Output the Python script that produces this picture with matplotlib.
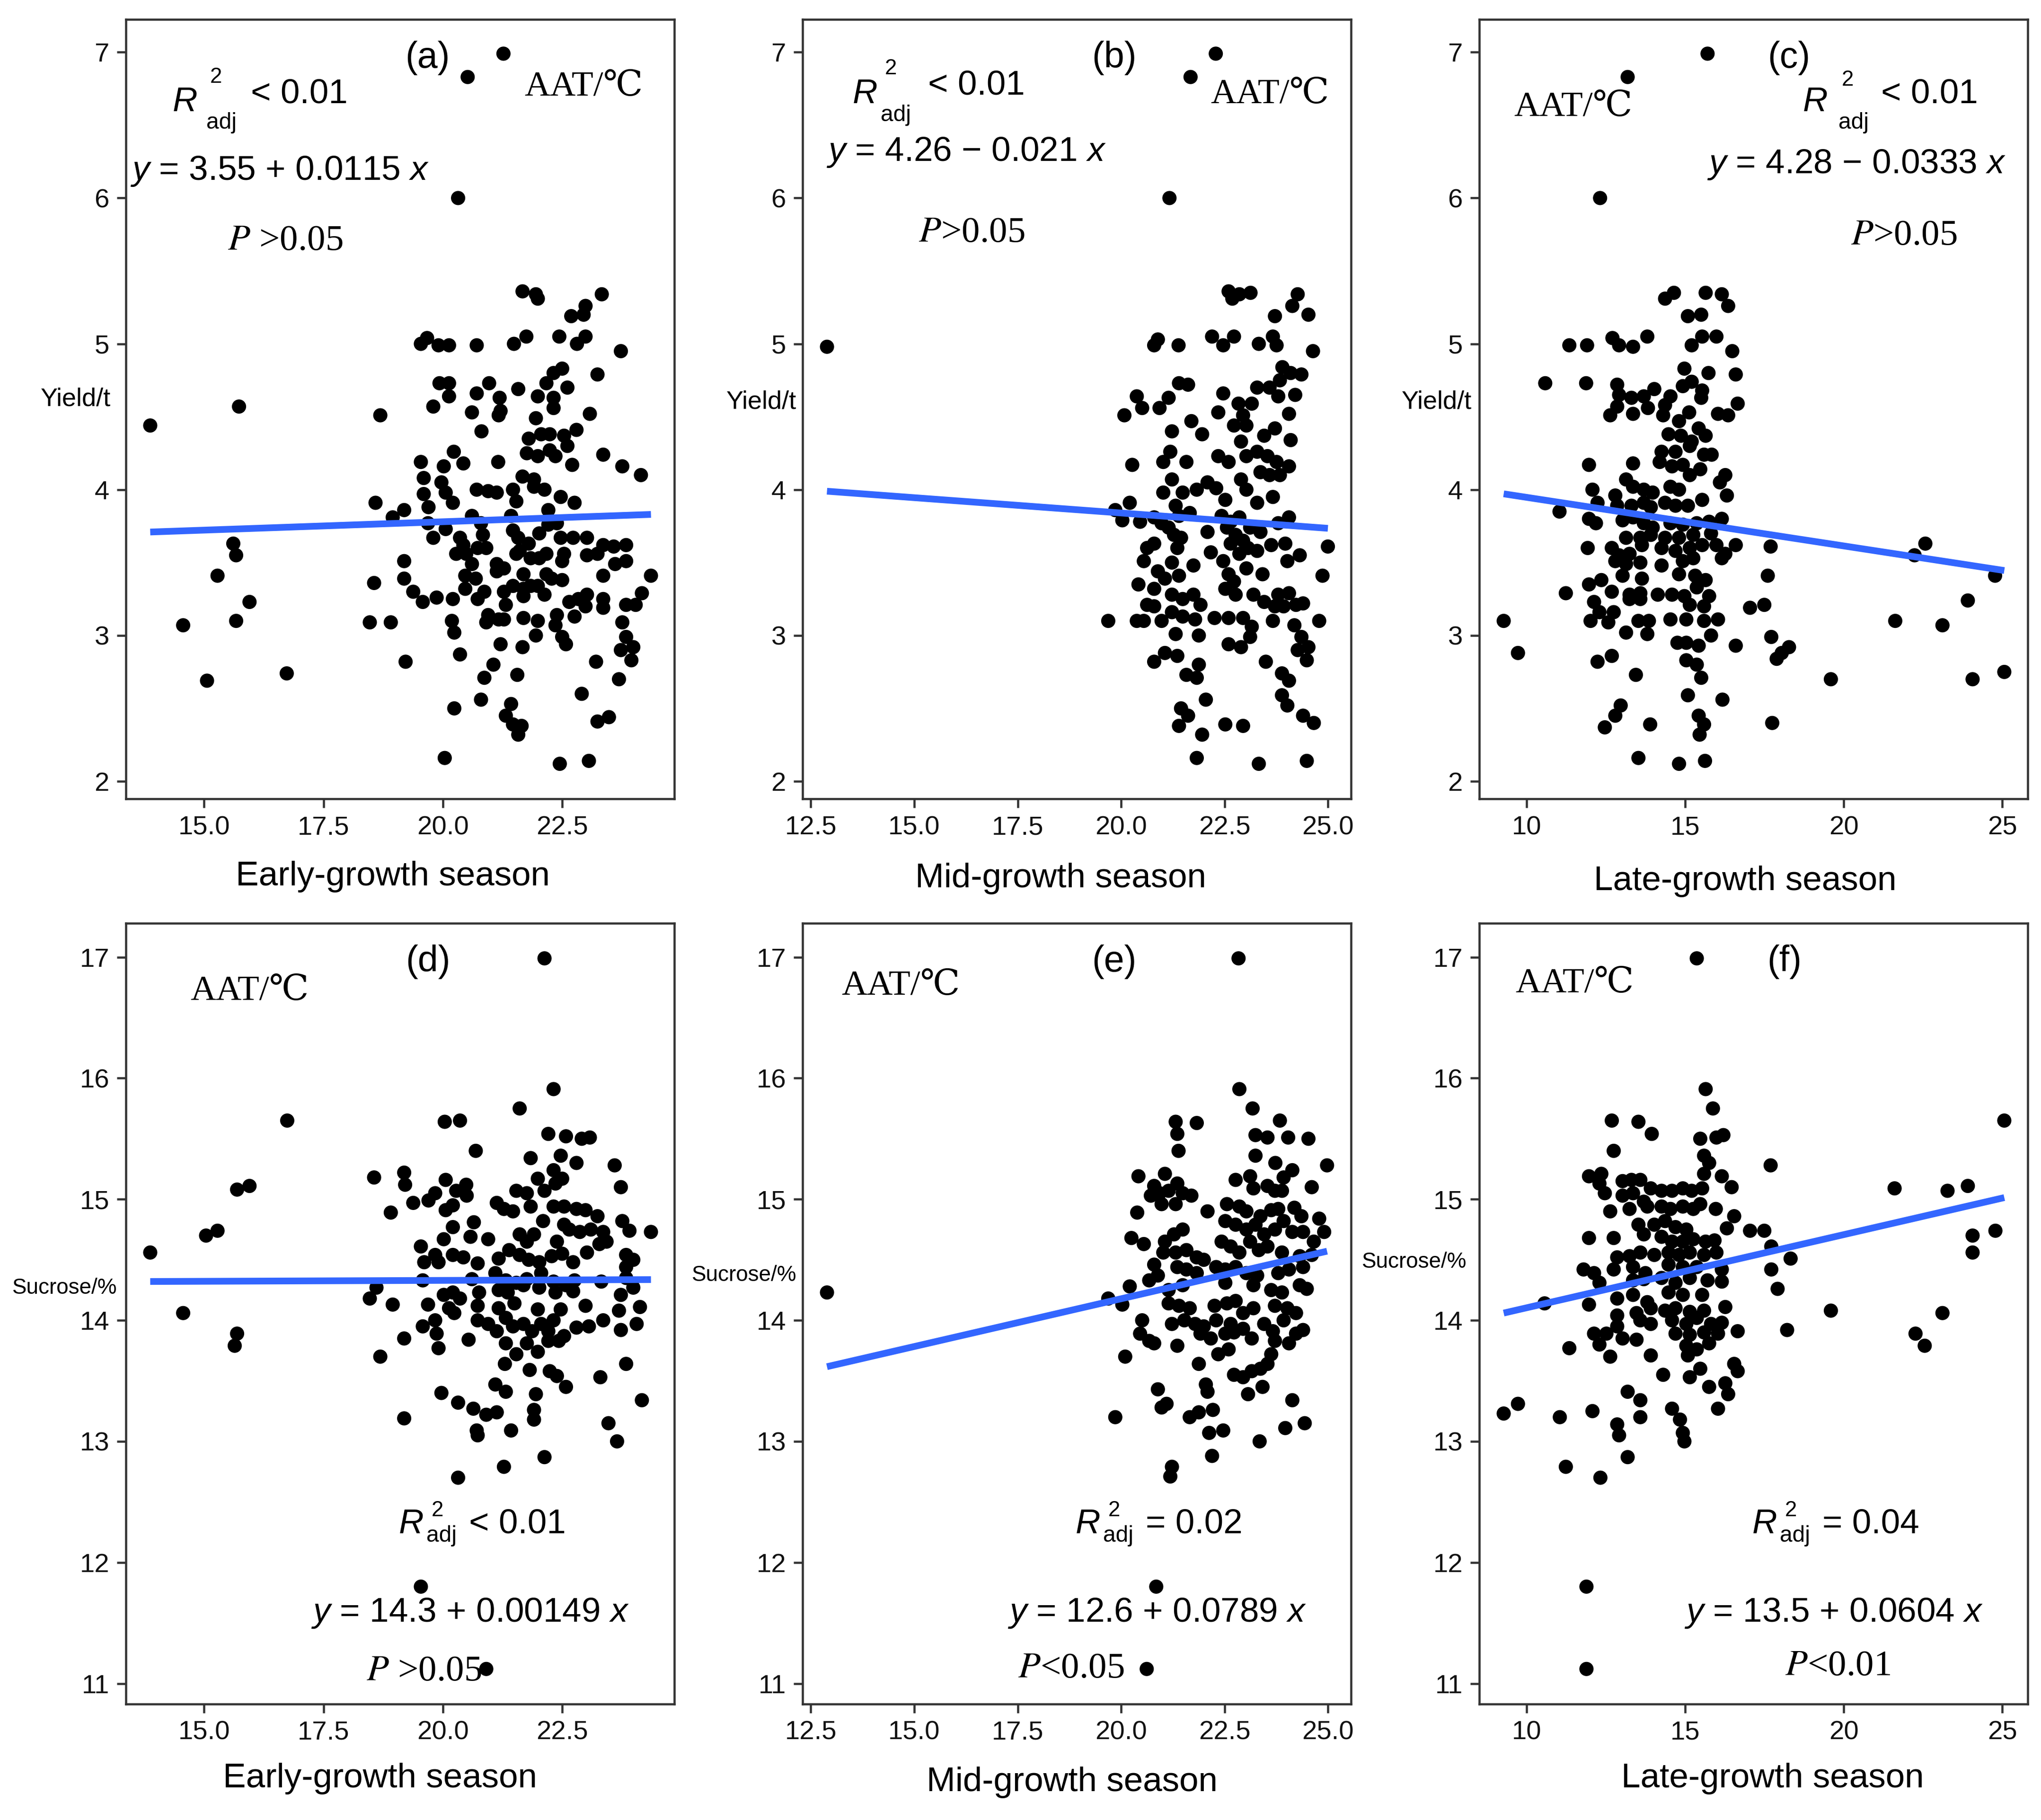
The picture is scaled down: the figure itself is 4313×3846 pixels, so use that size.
import numpy as np
import matplotlib
matplotlib.use("Agg")
import matplotlib.pyplot as plt

W, H, DPI = 4313, 3846, 300
plt.rcParams['font.family'] = ['Liberation Sans', 'DejaVu Sans']
plt.rcParams['mathtext.fontset'] = 'custom'
plt.rcParams['mathtext.rm'] = 'Liberation Sans'
plt.rcParams['mathtext.it'] = 'Liberation Sans:italic'

# ---------------- data (x = AAT in season, y = yield or sucrose) ----------------
pts_a = [(13.87,4.44),(15.73,4.57),(21.27,6.99),(20.52,6.83),(20.32,6.00),(18.69,4.51),(18.59,3.91),(15.61,3.63),
(15.67,3.55),(15.28,3.41),(15.95,3.23),(15.67,3.10),(14.56,3.07),(15.06,2.69),(16.73,2.74),(18.56,3.36),(18.47,3.09),
(18.91,3.09),(19.22,2.82),(19.19,3.51),(19.19,3.39),(19.19,3.86),(18.95,3.81),(19.38,3.30),(19.58,3.23),(19.87,3.26),
(20.21,3.25),(20.19,3.10),(20.24,3.02),(20.36,2.87),(20.24,2.50),(20.04,2.16),(19.54,5.00),(19.67,5.04),(19.91,4.99),
(20.13,4.99),(20.71,4.99),(21.49,5.00),(21.75,5.05),(21.67,5.36),(21.95,5.34),(21.99,5.31),(22.44,5.05),(22.69,5.19),
(22.99,5.26),(22.95,5.20),(23.33,5.34),(22.81,5.00),(22.99,5.05),(23.73,4.95),(23.24,4.79),(22.50,4.83),(22.32,4.80),
(22.17,4.73),(22.61,4.70),(21.99,4.64),(22.32,4.63),(22.32,4.56),(21.58,4.69),(20.97,4.73),(20.71,4.66),(21.19,4.63),
(21.21,4.54),(21.17,4.51),(20.61,4.53),(19.93,4.73),(20.13,4.73),(20.13,4.64),(19.80,4.57),(20.81,4.40),(21.95,4.49),
(22.06,4.38),(21.80,4.35),(22.24,4.38),(22.54,4.37),(22.80,4.41),(23.08,4.52),(21.76,4.25),(21.99,4.23),(22.24,4.27),
(22.36,4.23),(22.61,4.30),(22.71,4.17),(23.36,4.24),(23.76,4.16),(24.15,4.10),(20.23,4.26),(20.43,4.18),(19.54,4.19),
(20.02,4.16),(21.16,4.19),(19.60,4.08),(19.97,4.05),(20.06,3.98),(20.21,3.91),(19.60,3.97),(19.70,3.88),(20.71,4.00),
(20.95,3.99),(21.13,3.98),(21.47,4.00),(21.54,3.92),(21.67,4.09),(21.91,4.07),(21.91,4.02),(22.13,4.00),(22.47,3.95),
(22.76,3.91),(22.21,3.86),(21.43,3.82),(20.61,3.82),(19.69,3.77),(19.80,3.67),(20.06,3.73),(20.80,3.77),(20.84,3.69),
(20.36,3.67),(20.43,3.62),(20.49,3.56),(20.28,3.56),(20.61,3.49),(20.73,3.60),(20.91,3.60),(21.13,3.49),(21.28,3.46),
(21.47,3.72),(21.58,3.67),(21.61,3.58),(21.54,3.56),(21.80,3.63),(21.84,3.53),(22.02,3.53),(22.17,3.56),(22.02,3.70),
(22.21,3.76),(22.39,3.77),(22.47,3.67),(22.73,3.67),(22.54,3.56),(22.50,3.51),(23.02,3.67),(23.02,3.55),(23.24,3.56),
(23.36,3.62),(23.58,3.61),(23.84,3.62),(23.61,3.49),(23.84,3.51),(24.36,3.41),(23.36,3.41),(21.69,3.42),(21.84,3.34),
(21.69,3.32),(21.99,3.34),(22.13,3.28),(22.28,3.39),(22.50,3.38),(21.69,3.27),(20.47,3.41),(20.69,3.39),(20.87,3.30),
(20.73,3.25),(21.28,3.30),(21.32,3.21),(21.17,3.11),(20.95,3.14),(20.91,3.09),(21.28,3.11),(21.69,3.12),(21.99,3.10),
(21.95,3.00),(22.39,3.14),(22.36,3.07),(22.50,2.99),(22.58,2.94),(22.65,3.23),(22.84,3.25),(22.99,3.20),(22.76,3.13),
(23.02,3.28),(23.36,3.25),(23.36,3.19),(23.84,3.21),(24.04,3.21),(24.17,3.29),(23.76,3.09),(23.84,2.99),(23.99,2.92),
(23.73,2.90),(23.95,2.83),(23.21,2.82),(23.69,2.70),(22.91,2.60),(23.24,2.41),(23.48,2.44),(23.06,2.14),(22.45,2.12),
(21.21,2.94),(21.06,2.80),(20.87,2.71),(20.80,2.56),(21.56,2.73),(21.67,2.92),(21.43,2.53),(21.32,2.45),(21.47,2.39),
(21.65,2.38),(21.58,2.32),(21.13,3.44),(20.47,3.32),(21.47,3.34),(22.17,3.42)]

pts_b = [(12.89,4.98),(22.29,6.99),(21.68,6.83),(21.17,6.00),(22.60,5.36),(22.69,5.31),(22.86,5.34),(23.13,5.35),
(24.27,5.34),(24.14,5.26),(24.53,5.20),(23.72,5.19),(20.89,5.03),(20.80,4.99),(21.39,4.99),(22.20,5.05),(22.47,4.99),
(22.73,5.05),(23.33,5.00),(23.67,5.05),(23.76,4.99),(24.64,4.95),(23.90,4.84),(24.10,4.80),(24.36,4.79),(23.84,4.75),
(21.40,4.73),(21.62,4.72),(20.38,4.64),(20.51,4.56),(20.08,4.51),(20.93,4.56),(21.15,4.63),(22.47,4.66),(22.35,4.53),
(22.84,4.59),(23.16,4.59),(23.29,4.70),(23.59,4.70),(23.80,4.64),(24.21,4.65),(24.06,4.52),(21.70,4.47),(21.96,4.38),
(21.23,4.40),(22.95,4.51),(22.73,4.44),(23.03,4.44),(23.72,4.42),(23.46,4.37),(24.10,4.34),(21.19,4.26),(21.02,4.19),
(21.58,4.19),(20.27,4.17),(22.35,4.23),(22.60,4.19),(22.90,4.33),(23.03,4.23),(23.29,4.26),(23.54,4.23),(23.76,4.19),
(24.06,4.16),(21.23,4.07),(21.02,3.98),(21.49,3.98),(21.83,4.00),(22.09,4.05),(22.30,4.01),(22.52,3.93),(22.90,4.07),
(23.03,4.00),(23.37,4.12),(23.59,4.10),(23.84,4.10),(23.67,3.95),(23.29,3.91),(20.21,3.91),(19.86,3.86),(20.03,3.79),
(20.46,3.78),(20.80,3.81),(20.98,3.77),(21.32,3.89),(21.40,3.82),(21.66,3.84),(21.15,3.74),(21.28,3.69),(21.45,3.67),
(22.09,3.71),(22.43,3.82),(22.65,3.78),(22.86,3.81),(22.56,3.74),(22.77,3.69),(23.12,3.74),(23.37,3.71),(23.80,3.77),
(24.06,3.81),(20.63,3.60),(20.80,3.63),(21.36,3.60),(20.55,3.51),(21.23,3.50),(21.75,3.48),(22.17,3.57),(22.47,3.51),
(22.65,3.63),(22.95,3.65),(22.86,3.56),(23.07,3.60),(23.29,3.58),(23.63,3.62),(23.97,3.63),(24.32,3.55),(25.00,3.61),
(24.02,3.51),(20.42,3.35),(20.89,3.44),(21.06,3.39),(21.40,3.41),(22.60,3.42),(22.73,3.37),(23.03,3.46),(23.42,3.42),
(24.87,3.41),(20.80,3.32),(21.23,3.28),(21.49,3.25),(21.75,3.28),(21.92,3.21),(22.52,3.32),(22.77,3.28),(23.20,3.28),
(23.46,3.23),(23.80,3.28),(24.06,3.29),(24.23,3.21),(24.40,3.22),(23.72,3.20),(23.93,3.20),(19.69,3.10),(20.38,3.10),
(20.55,3.10),(20.63,3.21),(20.80,3.20),(20.98,3.10),(21.23,3.16),(21.49,3.13),(21.79,3.11),(22.26,3.12),(22.60,3.12),
(22.95,3.12),(23.16,3.06),(23.67,3.10),(24.19,3.07),(24.79,3.10),(21.32,3.01),(21.88,3.00),(22.60,2.94),(22.90,2.92),
(23.12,2.99),(24.36,2.99),(24.27,2.90),(24.53,2.92),(24.49,2.83),(21.06,2.88),(21.36,2.86),(20.80,2.82),(21.88,2.80),
(21.58,2.73),(21.83,2.71),(23.50,2.82),(23.89,2.74),(24.06,2.69),(22.05,2.56),(23.89,2.59),(24.02,2.52),(21.45,2.50),
(21.62,2.45),(21.40,2.38),(21.96,2.32),(22.52,2.39),(22.95,2.38),(24.40,2.45),(24.66,2.40),(21.83,2.16),(23.33,2.12),
(24.49,2.14)]

pts_c = [(15.70,6.99),(13.18,6.83),(12.31,6.00),(14.36,5.31),(14.64,5.35),(15.64,5.35),(16.15,5.34),(16.35,5.26),
(15.08,5.19),(15.50,5.20),(11.34,4.99),(11.90,4.99),(12.70,5.04),(12.91,4.99),(13.35,4.98),(13.80,5.05),(15.20,4.99),
(15.53,5.05),(15.98,5.05),(16.48,4.95),(10.58,4.73),(11.87,4.73),(14.97,4.83),(15.73,4.80),(16.59,4.79),(12.85,4.72),
(12.91,4.65),(13.30,4.63),(13.69,4.64),(14.02,4.69),(14.53,4.64),(14.92,4.71),(15.20,4.74),(15.53,4.68),(15.50,4.63),
(12.63,4.51),(12.85,4.57),(13.35,4.52),(13.82,4.56),(14.30,4.51),(14.36,4.58),(14.80,4.47),(15.12,4.53),(16.03,4.52),
(16.35,4.51),(16.65,4.59),(14.47,4.38),(14.86,4.37),(15.20,4.33),(15.42,4.42),(15.64,4.37),(14.25,4.26),(14.69,4.26),
(15.14,4.30),(15.59,4.24),(15.83,4.24),(11.96,4.17),(13.35,4.18),(14.19,4.19),(14.58,4.16),(14.92,4.17),(15.14,4.10),
(15.47,4.14),(16.26,4.10),(16.09,4.05),(16.31,3.96),(13.13,4.07),(13.35,4.02),(13.69,4.00),(13.97,3.98),(14.53,4.02),
(14.80,4.00),(15.53,3.93),(12.07,4.00),(12.23,3.91),(12.79,3.96),(12.85,3.89),(13.30,3.89),(13.69,3.91),(13.91,3.88),
(14.36,3.91),(14.69,3.89),(15.08,3.89),(11.03,3.85),(11.96,3.80),(12.18,3.77),(13.02,3.79),(13.35,3.81),(13.69,3.77),
(13.97,3.74),(14.53,3.77),(14.92,3.76),(15.36,3.77),(15.75,3.78),(16.15,3.80),(13.13,3.67),(13.58,3.67),(13.91,3.69),
(14.36,3.67),(14.80,3.67),(15.25,3.69),(15.81,3.70),(11.92,3.60),(12.68,3.60),(12.91,3.55),(13.24,3.56),(13.63,3.62),
(14.25,3.60),(14.69,3.58),(15.14,3.60),(15.53,3.62),(15.98,3.62),(16.59,3.62),(17.69,3.61),(12.79,3.51),(13.13,3.49),
(13.58,3.50),(14.25,3.48),(14.92,3.51),(15.25,3.53),(16.15,3.53),(16.26,3.56),(22.23,3.55),(22.57,3.63),(13.02,3.41),
(13.63,3.39),(14.80,3.42),(15.31,3.41),(15.64,3.38),(17.60,3.41),(24.77,3.41),(11.23,3.29),(11.96,3.35),(12.35,3.38),
(12.68,3.30),(13.24,3.28),(13.58,3.29),(14.13,3.28),(14.58,3.28),(14.97,3.27),(15.36,3.33),(15.75,3.27),(12.12,3.23),
(12.29,3.16),(12.74,3.16),(13.24,3.25),(13.58,3.25),(15.14,3.21),(15.59,3.20),(17.04,3.19),(17.49,3.21),(23.91,3.24),
(9.27,3.10),(12.01,3.10),(12.57,3.09),(13.52,3.10),(13.85,3.10),(14.53,3.11),(15.03,3.11),(15.59,3.10),(16.03,3.11),
(21.62,3.10),(23.11,3.07),(13.13,3.02),(13.80,3.01),(14.75,2.95),(15.03,2.95),(15.81,3.00),(17.71,2.99),(15.42,2.93),
(16.59,2.93),(18.27,2.92),(18.04,2.88),(17.88,2.84),(9.72,2.88),(12.23,2.82),(12.68,2.86),(15.03,2.83),(15.36,2.80),
(13.44,2.73),(15.50,2.71),(19.59,2.70),(24.06,2.70),(25.06,2.75),(15.08,2.59),(16.17,2.56),(12.96,2.52),(12.79,2.45),
(12.46,2.37),(13.89,2.39),(15.42,2.45),(15.59,2.39),(15.45,2.32),(17.74,2.40),(13.52,2.16),(14.80,2.12),(15.62,2.14)]

pts_d = [(22.13,16.99),(22.32,15.91),(21.61,15.75),(20.04,15.64),(20.36,15.65),(16.74,15.65),(20.69,15.40),(22.21,15.54),
(22.58,15.52),(22.91,15.50),(23.08,15.51),(21.84,15.34),(22.47,15.36),(22.80,15.30),(23.60,15.28),(23.73,15.10),
(18.56,15.18),(19.19,15.22),(19.21,15.12),(19.38,14.97),(19.70,14.99),(19.84,15.05),(20.06,15.16),(20.28,15.07),
(20.49,15.12),(20.50,15.03),(20.06,14.91),(20.21,14.95),(18.91,14.89),(15.69,15.08),(15.95,15.11),(15.04,14.70),
(15.28,14.74),(13.87,14.56),(21.13,14.97),(21.28,14.92),(21.47,14.90),(21.54,15.07),(21.76,15.05),(21.84,14.94),
(21.99,15.17),(22.13,15.07),(22.32,15.24),(22.36,15.13),(22.50,15.17),(22.32,14.94),(22.54,14.94),(22.80,14.92),
(22.99,14.91),(23.24,14.86),(20.21,14.77),(20.02,14.67),(20.65,14.81),(20.58,14.69),(20.95,14.67),(21.61,14.71),
(21.76,14.65),(21.91,14.71),(22.10,14.82),(22.39,14.65),(22.54,14.79),(22.65,14.75),(22.87,14.73),(23.10,14.75),
(23.36,14.73),(23.76,14.82),(23.91,14.74),(24.36,14.73),(19.54,14.61),(19.84,14.54),(19.61,14.48),(19.91,14.48),
(20.21,14.54),(20.43,14.52),(20.73,14.47),(21.17,14.51),(21.39,14.58),(21.61,14.54),(21.80,14.50),(22.02,14.48),
(22.28,14.53),(22.50,14.55),(22.73,14.48),(23.02,14.56),(23.28,14.63),(23.43,14.65),(23.84,14.54),(23.99,14.50),
(23.84,14.44),(19.58,14.33),(20.61,14.34),(21.10,14.39),(21.32,14.33),(21.54,14.31),(21.76,14.34),(22.06,14.39),
(22.32,14.32),(22.58,14.29),(22.76,14.33),(23.32,14.32),(23.84,14.35),(18.47,14.18),(18.61,14.27),(18.95,14.13),
(19.69,14.13),(20.02,14.21),(20.21,14.23),(20.36,14.18),(20.13,14.10),(20.24,14.06),(20.76,14.23),(20.73,14.12),
(21.17,14.25),(21.17,14.10),(21.36,14.23),(21.50,14.14),(21.69,14.29),(22.02,14.27),(22.36,14.23),(22.73,14.24),
(22.99,14.12),(21.99,14.09),(22.47,14.09),(23.69,14.08),(23.73,14.21),(23.99,14.27),(24.13,14.11),(14.56,14.06),
(15.69,13.89),(15.64,13.79),(19.19,13.85),(19.58,13.95),(19.84,14.00),(19.87,13.89),(19.91,13.77),(20.54,13.84),
(20.73,14.00),(20.95,13.97),(21.13,13.91),(21.32,14.02),(21.47,13.95),(21.69,13.97),(21.87,13.91),(22.06,13.97),
(22.21,13.91),(22.32,14.00),(22.54,13.87),(22.80,13.94),(23.06,13.95),(23.36,14.00),(23.73,13.92),(24.06,13.97),
(18.69,13.70),(21.32,13.81),(21.54,13.72),(21.76,13.81),(21.99,13.74),(22.21,13.83),(22.43,13.83),(21.30,13.64),
(21.82,13.59),(22.24,13.58),(22.39,13.54),(22.58,13.45),(23.30,13.53),(23.84,13.64),(19.97,13.40),(21.10,13.47),
(21.32,13.41),(21.95,13.39),(20.32,13.32),(20.64,13.27),(20.91,13.22),(21.13,13.24),(21.91,13.26),(21.91,13.18),
(19.19,13.19),(20.71,13.09),(20.73,13.05),(21.43,13.09),(23.47,13.15),(23.65,13.00),(24.17,13.34),(22.13,12.87),
(21.28,12.79),(20.32,12.70),(19.54,11.80),(20.91,11.12)]

pts_e = [(12.89,14.23),(22.84,16.99),(22.86,15.91),(23.18,15.75),(21.32,15.64),(21.83,15.63),(21.36,15.54),(21.39,15.40),
(23.25,15.53),(23.54,15.51),(23.84,15.65),(24.04,15.51),(24.53,15.50),(23.25,15.36),(23.73,15.30),(24.14,15.24),
(24.98,15.28),(23.93,15.18),(20.42,15.19),(21.06,15.21),(20.80,15.11),(20.72,15.03),(20.93,15.05),(21.15,15.07),
(21.36,15.13),(21.49,15.05),(21.70,15.03),(21.32,14.96),(20.98,14.96),(22.77,15.16),(23.12,15.19),(23.20,15.09),
(23.54,15.11),(23.72,15.07),(23.89,15.07),(24.61,15.10),(20.39,14.89),(22.09,14.90),(22.56,14.96),(22.86,14.94),
(23.03,14.90),(23.37,14.86),(23.63,14.91),(23.80,14.92),(23.93,14.82),(24.19,14.93),(24.36,14.86),(24.79,14.84),
(24.91,14.73),(20.25,14.68),(20.55,14.63),(21.06,14.65),(21.28,14.71),(21.49,14.75),(22.52,14.82),(22.77,14.79),
(23.03,14.75),(23.25,14.79),(23.46,14.71),(23.72,14.75),(24.14,14.73),(24.40,14.73),(24.66,14.65),(21.02,14.56),
(21.32,14.56),(21.58,14.58),(21.83,14.52),(22.00,14.50),(22.43,14.65),(22.65,14.61),(22.86,14.56),(23.12,14.65),
(23.33,14.58),(23.54,14.61),(23.89,14.56),(24.32,14.53),(24.61,14.54),(20.80,14.46),(20.89,14.37),(20.68,14.33),
(21.36,14.44),(21.58,14.42),(21.83,14.39),(22.30,14.44),(22.52,14.42),(22.77,14.44),(23.03,14.39),(23.29,14.37),
(23.80,14.39),(24.06,14.42),(24.40,14.44),(20.21,14.28),(21.15,14.25),(21.49,14.29),(22.52,14.31),(23.20,14.29),
(23.63,14.25),(23.89,14.23),(24.32,14.29),(24.49,14.26),(19.69,14.18),(20.03,14.13),(21.15,14.14),(21.40,14.12),
(21.66,14.10),(22.26,14.12),(22.56,14.14),(22.77,14.16),(22.95,14.06),(23.20,14.10),(23.72,14.12),(24.02,14.10),
(24.23,14.06),(20.51,14.00),(21.23,13.97),(21.53,14.00),(21.79,13.97),(22.00,13.95),(22.30,14.00),(22.65,13.97),
(22.95,13.93),(23.46,13.97),(23.67,13.91),(23.93,14.00),(24.40,13.92),(20.46,13.89),(20.68,13.83),(20.80,13.81),
(21.36,13.79),(21.92,13.89),(22.17,13.85),(22.52,13.89),(22.73,13.90),(23.16,13.85),(23.72,13.83),(24.06,13.81),
(24.23,13.89),(20.10,13.70),(21.88,13.64),(22.35,13.72),(22.60,13.76),(23.63,13.72),(23.54,13.64),(23.37,13.60),
(22.73,13.55),(22.95,13.53),(23.16,13.58),(20.89,13.43),(22.05,13.47),(22.09,13.41),(23.07,13.39),(23.42,13.45),
(24.14,13.34),(20.98,13.28),(21.10,13.31),(19.86,13.20),(21.66,13.20),(21.88,13.24),(22.22,13.26),(22.13,13.07),
(22.47,13.09),(23.97,13.11),(24.44,13.15),(23.35,13.00),(22.20,12.88),(21.23,12.79),(21.19,12.71),(20.85,11.80),
(20.62,11.12)]

pts_f = [(15.36,16.99),(15.64,15.91),(15.87,15.75),(12.68,15.65),(13.52,15.64),(13.94,15.54),(12.74,15.40),(15.47,15.50),
(15.98,15.51),(16.20,15.53),(15.59,15.36),(15.75,15.30),(15.59,15.21),(17.69,15.28),(25.06,15.65),(11.96,15.19),
(12.35,15.21),(12.29,15.13),(12.46,15.05),(13.02,15.15),(13.30,15.16),(13.58,15.16),(13.91,15.09),(13.02,15.03),
(13.35,15.05),(13.69,14.98),(14.25,15.07),(14.58,15.07),(14.92,15.09),(15.20,15.07),(15.53,15.09),(16.15,15.19),
(16.46,15.10),(21.60,15.09),(23.27,15.07),(23.91,15.11),(12.63,14.90),(13.24,14.92),(13.80,14.94),(14.25,14.94),
(14.53,14.92),(14.92,14.94),(15.25,14.92),(15.47,14.96),(15.96,14.92),(16.54,14.86),(13.52,14.79),(14.02,14.79),
(14.36,14.82),(14.69,14.77),(15.03,14.75),(16.31,14.76),(17.04,14.74),(17.49,14.74),(11.96,14.68),(12.74,14.68),
(13.69,14.71),(14.25,14.69),(14.58,14.65),(14.92,14.65),(15.25,14.67),(15.64,14.65),(15.92,14.66),(17.71,14.61),
(24.06,14.70),(24.78,14.74),(12.85,14.52),(13.24,14.53),(13.58,14.56),(14.02,14.54),(14.47,14.56),(14.80,14.54),
(15.14,14.56),(15.59,14.54),(15.98,14.56),(18.32,14.51),(24.06,14.56),(11.79,14.42),(12.12,14.39),(12.74,14.42),
(13.35,14.44),(13.74,14.39),(14.47,14.46),(14.92,14.44),(15.36,14.44),(16.15,14.42),(17.71,14.42),(12.29,14.31),
(13.35,14.33),(13.69,14.34),(14.25,14.35),(14.69,14.31),(15.14,14.35),(15.70,14.33),(16.15,14.32),(17.91,14.26),
(10.56,14.14),(11.96,14.13),(12.85,14.18),(13.35,14.21),(13.80,14.15),(14.47,14.23),(14.92,14.21),(15.53,14.21),
(16.26,14.11),(19.59,14.08),(12.85,14.04),(13.46,14.06),(13.91,14.10),(14.36,14.08),(14.69,14.10),(15.14,14.07),
(15.59,14.08),(23.11,14.06),(12.85,13.95),(13.58,14.00),(13.91,13.97),(14.58,14.00),(15.03,13.97),(15.36,14.02),
(15.81,13.97),(16.15,13.98),(16.65,13.91),(18.21,13.92),(12.12,13.89),(12.51,13.89),(13.02,13.85),(13.46,13.84),
(14.69,13.89),(15.14,13.88),(15.59,13.90),(16.03,13.89),(22.26,13.89),(22.55,13.79),(11.34,13.77),(12.29,13.80),
(12.63,13.70),(15.03,13.79),(15.36,13.76),(15.75,13.81),(13.91,13.71),(15.08,13.71),(14.30,13.55),(15.14,13.53),
(15.47,13.60),(16.54,13.64),(16.65,13.58),(13.18,13.41),(13.58,13.34),(15.75,13.45),(16.26,13.48),(16.35,13.39),
(9.27,13.23),(9.72,13.31),(11.04,13.20),(12.07,13.25),(13.58,13.20),(14.58,13.27),(14.83,13.18),(12.85,13.14),
(12.91,13.05),(14.92,13.07),(14.97,13.00),(16.03,13.27),(13.18,12.87),(11.23,12.79),(12.32,12.70),(11.88,11.80),
(11.88,11.12)]

panel_points = [pts_a, pts_b, pts_c, pts_d, pts_e, pts_f]
panel_tags = ['a', 'b', 'c', 'd', 'e', 'f']
fit_intercepts = [3.55, 4.26, 4.28, 14.3, 12.6, 13.5]
fit_slopes = [0.0115, -0.021, -0.0333, 0.00149, 0.0789, 0.0604]
season_names = ['Early-growth season', 'Mid-growth season', 'Late-growth season']
ylabel_names = ['Yield/t', 'Sucrose/%']
xticks_by_col = [[15.0, 17.5, 20.0, 22.5], [12.5, 15.0, 17.5, 20.0, 22.5, 25.0], [10, 15, 20, 25]]
xticklabels_by_col = [['15.0', '17.5', '20.0', '22.5'], ['12.5', '15.0', '17.5', '20.0', '22.5', '25.0'],
                      ['10', '15', '20', '25']]
xlims_by_col = [(13.36, 24.85), (12.30, 25.56), (8.50, 25.80)]
yticks_by_row = [[2, 3, 4, 5, 6, 7], [11, 12, 13, 14, 15, 16, 17]]
ylims_by_row = [(1.88, 7.225), (10.83, 17.28)]
r2_cmp = ['< 0.01', '< 0.01', '< 0.01', '< 0.01', '= 0.02', '= 0.04']
eq_text = ['$y$ = 3.55 + 0.0115 $x$', '$y$ = 4.26 \u2212 0.021 $x$', '$y$ = 4.28 \u2212 0.0333 $x$',
           '$y$ = 14.3 + 0.00149 $x$', '$y$ = 12.6 + 0.0789 $x$', '$y$ = 13.5 + 0.0604 $x$']
p_text = ['$P$ >0.05', '$P$>0.05', '$P$>0.05', '$P$ >0.05', '$P$<0.05', '$P$<0.01']

# ---------------- layout (pixel boxes) ----------------
col_px = [(266, 1425), (1696, 2855), (3126, 4285)]
row_px = [(41, 1688), (1951, 3601)]

fig = plt.figure(figsize=(W / DPI, H / DPI), dpi=DPI)
fig.patch.set_facecolor('white')


def ftext(x, y, s, **kw):
    kw.setdefault('ha', 'left')
    kw.setdefault('va', 'baseline')
    kw.setdefault('color', 'black')
    return fig.text(x / W, 1 - y / H, s, **kw)


frame_col = '#333333'
axes = []
for i in range(6):
    r, c = divmod(i, 3)
    x0, x1 = col_px[c]
    y0, y1 = row_px[r]
    ax = fig.add_axes([x0 / W, 1 - y1 / H, (x1 - x0) / W, (y1 - y0) / H])
    axes.append(ax)
    pts = np.array(panel_points[i])
    xs, ys = pts[:, 0], pts[:, 1]
    ax.scatter(xs, ys, s=52, c='black', edgecolors='none', zorder=3)
    xl = np.array([xs.min(), xs.max()])
    ax.plot(xl, fit_intercepts[i] + fit_slopes[i] * xl, color='#3366FF', lw=3.4, zorder=4,
            solid_capstyle='butt')
    ax.set_xlim(*xlims_by_col[c])
    ax.set_ylim(*ylims_by_row[r])
    ax.set_xticks(xticks_by_col[c])
    ax.set_xticklabels(xticklabels_by_col[c])
    ax.set_yticks(yticks_by_row[r])
    ax.set_yticklabels([str(v) for v in yticks_by_row[r]])
    ax.tick_params(axis='both', direction='out', length=4.6, width=1.1, color=frame_col,
                   labelsize=13.5, labelcolor='#111111', pad=3.8)
    for sp in ax.spines.values():
        sp.set_color(frame_col)
        sp.set_linewidth(1.1)
    ax.set_facecolor('white')

# ---------------- axis titles ----------------
xlab_pos = [(830, 1853), (2241, 1857), (3688, 1862), (803, 3759), (2266, 3766), (3746, 3759)]
for i in range(6):
    x, y = xlab_pos[i]
    ftext(x, y, season_names[i % 3], ha='center', va='center', fontsize=17.5)

ylab_pos = [(234, 844), (1683, 850), (3110, 850), (247, 2722), (1683, 2695), (3099, 2667)]
for i in range(6):
    x, y = ylab_pos[i]
    ftext(x, y, ylabel_names[i // 3], ha='right', va='center', fontsize=13 if i < 3 else 11)

# ---------------- in-panel annotations (pixel positions) ----------------
tag_pos = [(903, 143), (2354, 143), (3780, 143), (905, 2053), (2354, 2053), (3771, 2053)]
aat_pos = [(1108, 202), (2558, 218), (3199, 245), (402, 2113), (1778, 2102), (3202, 2097)]
R_pos = [(365, 235), (1802, 218), (3810, 235), (843, 3240), (2273, 3240), (3703, 3240)]
two_pos = [(444, 175), (1870, 157), (3892, 181), (912, 3204), (2342, 3204), (3772, 3204)]
adj_pos = [(436, 272), (1861, 256), (3885, 272), (901, 3258), (2331, 3258), (3761, 3258)]
cmp_pos = [(530, 218), (1961, 199), (3975, 218), (991, 3240), (2421, 3240), (3851, 3240)]
eq_pos = [(275, 380), (1746, 340), (3607, 366), (657, 3427), (2129, 3427), (3559, 3427)]
p_pos = [(481, 528), (1941, 511), (3911, 517), (774, 3551), (2151, 3545), (3772, 3540)]

for i in range(6):
    ftext(*tag_pos[i], '(%s)' % panel_tags[i], ha='center', fontsize=18.5,
          family=['Liberation Sans', 'DejaVu Sans'])
    ftext(*aat_pos[i], 'AAT/\u2103', fontsize=18,
          family=['Liberation Serif', 'DejaVu Serif', 'Noto Sans CJK SC'])
    ftext(*R_pos[i], 'R', fontsize=17.5, style='italic')
    ftext(*two_pos[i], '2', fontsize=11)
    ftext(*adj_pos[i], 'adj', fontsize=11.5)
    ftext(*cmp_pos[i], r2_cmp[i], fontsize=17.5)
    ftext(*eq_pos[i], eq_text[i], fontsize=17.5)
    ftext(*p_pos[i], p_text[i], fontsize=18.5, family='Liberation Serif', math_fontfamily='stix')

fig.savefig('out.png', dpi=DPI, facecolor='white')
